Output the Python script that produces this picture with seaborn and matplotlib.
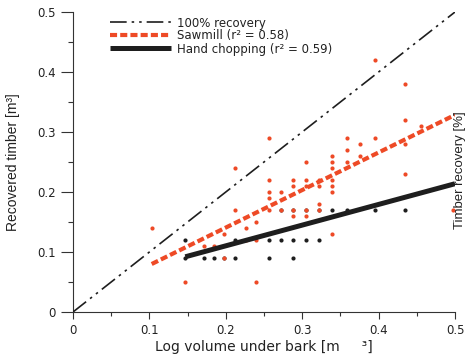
import matplotlib
matplotlib.use("Agg")
import matplotlib.pyplot as plt
import seaborn as sns
import numpy as np
import pandas as pd
from matplotlib.ticker import MultipleLocator

# ---- data ----
saw_x = [0.103, 0.147, 0.171, 0.184, 0.198, 0.198, 0.212, 0.212, 0.226, 0.226,
         0.240, 0.240, 0.240,
         0.256, 0.256, 0.256, 0.256, 0.256,
         0.272, 0.272,
         0.288, 0.288, 0.288, 0.288,
         0.305, 0.305, 0.305, 0.305, 0.305,
         0.322, 0.322, 0.322, 0.322,
         0.339, 0.339, 0.339, 0.339, 0.339, 0.339, 0.339,
         0.358, 0.358, 0.358,
         0.376, 0.376,
         0.395, 0.395,
         0.435, 0.435, 0.435, 0.435,
         0.456, 0.498]
saw_y = [0.14, 0.05, 0.11, 0.11, 0.13, 0.09, 0.24, 0.17, 0.14, 0.12,
         0.15, 0.12, 0.05,
         0.29, 0.22, 0.20, 0.19, 0.17,
         0.20, 0.17,
         0.22, 0.21, 0.17, 0.16,
         0.25, 0.22, 0.21, 0.17, 0.16,
         0.22, 0.21, 0.18, 0.17,
         0.26, 0.25, 0.24, 0.22, 0.21, 0.20, 0.13,
         0.29, 0.27, 0.25,
         0.28, 0.26,
         0.42, 0.29,
         0.38, 0.32, 0.28, 0.23,
         0.31, 0.17]

hand_x = [0.147, 0.147, 0.171, 0.184, 0.198, 0.212, 0.212, 0.256, 0.256,
          0.272, 0.272, 0.288, 0.288, 0.288, 0.305, 0.305, 0.322, 0.322,
          0.339, 0.358, 0.395, 0.435]
hand_y = [0.12, 0.09, 0.09, 0.09, 0.09, 0.12, 0.09, 0.12, 0.09,
          0.17, 0.12, 0.17, 0.12, 0.09, 0.17, 0.12, 0.17, 0.12,
          0.17, 0.17, 0.17, 0.17]

# regression fits (slope, intercept) and x-extent
saw_fit = (0.626, 0.0155)
saw_fit_x = [0.103, 0.5]
hand_fit = (0.345, 0.0413)
hand_fit_x = [0.147, 0.5]
full_x = [0.0, 0.5]

tick_vals = [0, 0.1, 0.2, 0.3, 0.4, 0.5]
tick_labels = ["0", "0.1", "0.2", "0.3", "0.4", "0.5"]
labels = ["100% recovery", "Sawmill (r² = 0.58)", "Hand chopping (r² = 0.59)"]

RED = "#ee4a26"
BLK = "#1e1e1e"
TXT = "#222222"

sns.set_theme(style="ticks")
plt.rcParams['font.family'] = ['DejaVu Sans']

fig = plt.figure(figsize=(4.66, 3.61), dpi=100)
ax = fig.add_axes([73/466, 1-312/361, (455-73)/466, 300/361])

df_saw = pd.DataFrame({"x": saw_x, "y": saw_y})
df_hand = pd.DataFrame({"x": hand_x, "y": hand_y})

sns.scatterplot(data=df_hand, x="x", y="y", ax=ax, color=BLK, s=9,
                linewidth=0, legend=False, zorder=2)
sns.scatterplot(data=df_saw, x="x", y="y", ax=ax, color=RED, s=9,
                linewidth=0, legend=False, zorder=3)

fx = np.array(full_x)
l1, = ax.plot(fx, fx, color=BLK, lw=1.2, dashes=(10, 3, 1.5, 3, 1.5, 3),
              zorder=4, label=labels[0])
sx = np.array(saw_fit_x)
l2, = ax.plot(sx, saw_fit[0]*sx + saw_fit[1], color=RED, lw=3.0,
              dashes=(1.7, 0.75), solid_capstyle='butt', zorder=5, label=labels[1])
hx = np.array(hand_fit_x)
l3, = ax.plot(hx, hand_fit[0]*hx + hand_fit[1], color=BLK, lw=3.6,
              solid_capstyle='butt', zorder=5, label=labels[2])

ax.set_xlim(0, 0.5)
ax.set_ylim(0, 0.5)
ax.set_xticks(tick_vals)
ax.set_yticks(tick_vals)
ax.set_xticklabels(tick_labels)
ax.set_yticklabels(tick_labels)
ax.xaxis.set_minor_locator(MultipleLocator(0.05))
ax.yaxis.set_minor_locator(MultipleLocator(0.05))
ax.tick_params(which='both', direction='out', width=0.8, color='#333333',
               labelsize=8.5, labelcolor=TXT)
ax.tick_params(axis='x', which='major', length=5, pad=4)
ax.tick_params(axis='x', which='minor', length=2.6)
ax.tick_params(axis='y', which='major', length=8.6, pad=3.6)
ax.tick_params(axis='y', which='minor', length=3.6)
for s in ['top', 'right']:
    ax.spines[s].set_visible(False)
for s in ['left', 'bottom']:
    ax.spines[s].set_color('#333333')
    ax.spines[s].set_linewidth(0.8)

ax.set_xlabel("Log volume under bark [m     ³]", fontsize=10, color=TXT, labelpad=2)
ax.set_ylabel("Recovered timber [m³]", fontsize=10, color=TXT, labelpad=12.5,
              family=['Liberation Sans', 'DejaVu Sans'])

leg = ax.legend(handles=[l1, l2, l3], loc='upper left',
                bbox_to_anchor=((110-73)/382, 0.985), frameon=False,
                prop={'size': 8.5}, handlelength=5.2, handletextpad=0.45,
                labelspacing=0.0, borderpad=0, borderaxespad=0)
for t in leg.get_texts():
    t.set_color(TXT)

fig.text(465.5/466, 1-170/361, "Timber recovery [%]", rotation=90,
         ha='right', va='center', fontsize=9.5, color=TXT,
         family=['Liberation Sans', 'DejaVu Sans'])

fig.savefig("out.png", dpi=100)
